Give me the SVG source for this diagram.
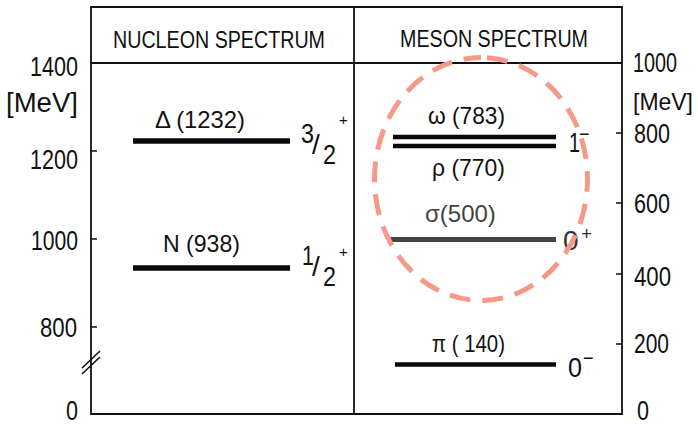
<svg xmlns="http://www.w3.org/2000/svg" width="698" height="426" viewBox="0 0 698 426">
<style>
text{font-family:"Liberation Sans","DejaVu Sans",Arial,sans-serif;fill:#111}
.ax{font-size:27px}
.hd{font-size:24px}
.lb{font-size:24px}
.qn{font-size:28px}
.sup{font-size:15px}
.frame{stroke:#111;stroke-width:1.8;fill:none}
.tick{stroke:#111;stroke-width:1.6}
.bar{stroke:#0a0a0a;stroke-width:5.5;stroke-linecap:butt}
.bar2{stroke:#0a0a0a;stroke-width:4.5}
.grey{stroke:#444;stroke-width:5}
</style>
<rect width="698" height="426" fill="#fff"/>
<g id="frame">
<path class="frame" d="M91 7 H622 V414 H91 Z M91 63 H622 M354 7 V414"/>
<path class="tick" d="M91 151 H97 M91 239 H97 M91 327 H97 M616 133 H622 M616 203 H622 M616 274 H622 M616 344 H622"/>
<path class="tick" d="M82 368 L100 351 M82 374 L100 357"/>
</g>
<g id="left-axis">
<text class="ax" x="30" y="76" textLength="48" lengthAdjust="spacingAndGlyphs">1400</text>
<text class="ax" x="6" y="112" textLength="72" lengthAdjust="spacingAndGlyphs">[MeV]</text>
<text class="ax" x="30" y="169" textLength="48" lengthAdjust="spacingAndGlyphs">1200</text>
<text class="ax" x="31" y="250" textLength="47" lengthAdjust="spacingAndGlyphs">1000</text>
<text class="ax" x="40" y="337" textLength="37" lengthAdjust="spacingAndGlyphs">800</text>
<text class="ax" x="66" y="420" textLength="12" lengthAdjust="spacingAndGlyphs">0</text>
</g>
<g id="right-axis">
<text class="ax" x="633" y="72" textLength="44" lengthAdjust="spacingAndGlyphs">1000</text>
<text class="ax" x="633" y="110" style="font-size:24px" textLength="60" lengthAdjust="spacingAndGlyphs">[MeV]</text>
<text class="ax" x="634" y="143" textLength="36" lengthAdjust="spacingAndGlyphs">800</text>
<text class="ax" x="634" y="213" textLength="36" lengthAdjust="spacingAndGlyphs">600</text>
<text class="ax" x="634" y="286" textLength="37" lengthAdjust="spacingAndGlyphs">400</text>
<text class="ax" x="634" y="353" textLength="35" lengthAdjust="spacingAndGlyphs">200</text>
<text class="ax" x="637" y="420" textLength="12" lengthAdjust="spacingAndGlyphs">0</text>
</g>
<g id="headers">
<text class="hd" x="113" y="48" textLength="212" lengthAdjust="spacingAndGlyphs">NUCLEON SPECTRUM</text>
<text class="hd" x="400" y="47" textLength="188" lengthAdjust="spacingAndGlyphs">MESON SPECTRUM</text>
</g>
<g id="delta">
<line class="bar" x1="133" y1="141" x2="290" y2="141"/>
<text class="lb" x="155" y="128" textLength="90" lengthAdjust="spacingAndGlyphs">Δ (1232)</text>
<text class="qn" x="301" y="143" textLength="13" lengthAdjust="spacingAndGlyphs">3</text>
<text class="qn" x="312" y="154">/</text>
<text class="qn" x="323" y="164" textLength="13" lengthAdjust="spacingAndGlyphs">2</text>
<text class="sup" x="339" y="125">+</text>
</g>
<g id="nucleon">
<line class="bar" x1="133" y1="268" x2="290" y2="268"/>
<text class="lb" x="163" y="252" textLength="77" lengthAdjust="spacingAndGlyphs">N (938)</text>
<text class="qn" x="302" y="265" textLength="12" lengthAdjust="spacingAndGlyphs">1</text>
<text class="qn" x="312" y="276">/</text>
<text class="qn" x="323" y="286" textLength="13" lengthAdjust="spacingAndGlyphs">2</text>
<text class="sup" x="339" y="257">+</text>
</g>
<g id="omega">
<line class="bar2" x1="393" y1="137" x2="556" y2="137"/>
<text class="lb" x="428" y="124" textLength="77" lengthAdjust="spacingAndGlyphs">ω (783)</text>
</g>
<g id="rho">
<line class="bar2" x1="393" y1="146" x2="556" y2="146"/>
<text class="lb" x="432" y="176" textLength="73" lengthAdjust="spacingAndGlyphs">ρ (770)</text>
<text class="qn" x="569" y="152" textLength="11" lengthAdjust="spacingAndGlyphs">1</text>
<text class="sup" x="579" y="140" style="font-size:18px">−</text>
</g>
<g id="sigma">
<line class="grey" x1="390" y1="239.5" x2="556" y2="239.5"/>
<text class="lb" x="425" y="222" style="fill:#444">σ(500)</text>
<text class="qn" x="563" y="250" style="fill:#333">0</text>
<text class="sup" x="581" y="240" style="font-size:19px;fill:#333">+</text>
</g>
<g id="pion">
<line class="bar2" x1="395" y1="364.5" x2="556" y2="364.5"/>
<text class="lb" x="432" y="352" textLength="73" lengthAdjust="spacingAndGlyphs">π ( 140)</text>
<text class="qn" x="568" y="377" textLength="14" lengthAdjust="spacingAndGlyphs">0</text>
<text class="sup" x="583" y="364" style="font-size:18px">−</text>
</g>
<g id="connectors">
<path d="M481 57.5 A106 121 0 1 1 481 300.5 A106 121 0 1 1 481 57.5" fill="none" stroke="#f5998a" stroke-width="5" stroke-dasharray="21 12" stroke-dashoffset="27"/>
</g>
</svg>
